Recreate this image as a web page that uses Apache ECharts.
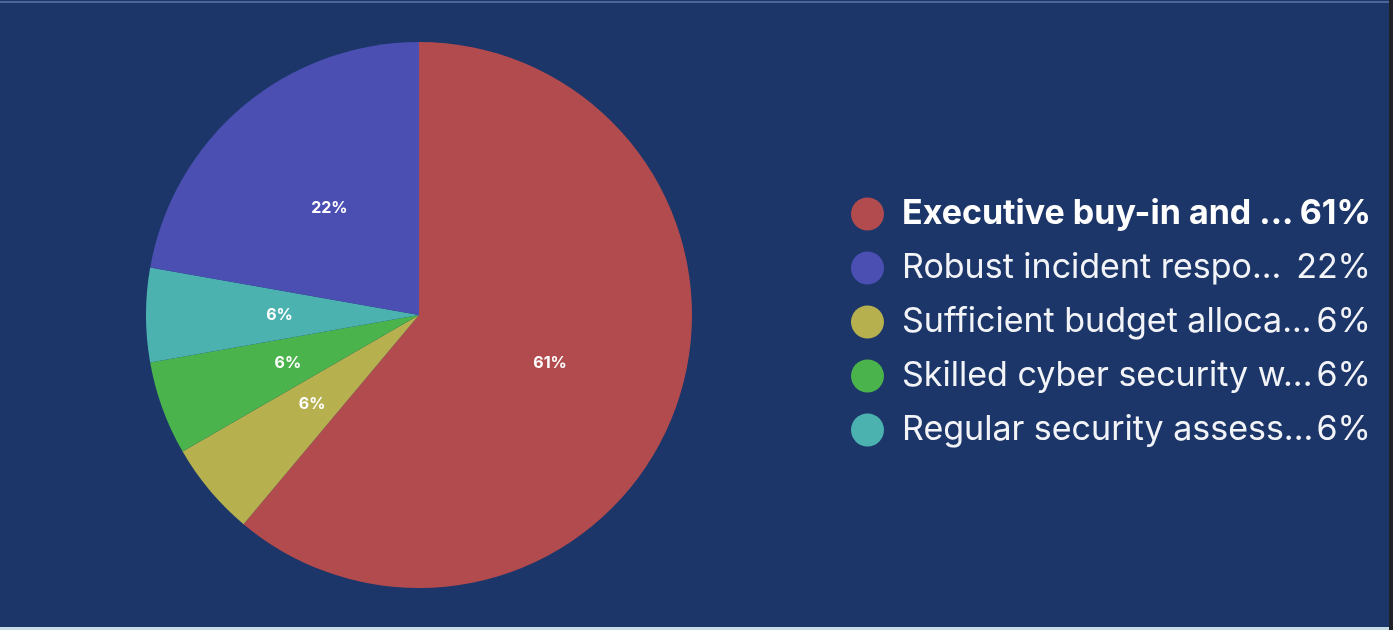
<!DOCTYPE html>
<html><head><meta charset="utf-8">
<script src="https://cdn.jsdelivr.net/npm/echarts@6/dist/echarts.min.js"></script>
<style>html,body{margin:0;padding:0;background:#1c3669;overflow:hidden;} #c{width:1393px;height:630px;}</style>
</head><body><div id="c"></div><script>
// Pie order (clockwise from top)
const categories = ['Executive buy-in and ...', 'Sufficient budget alloca...', 'Skilled cyber security w...', 'Regular security assess...', 'Robust incident respo...'];
const values = [11, 1, 1, 1, 4];
const colors = ['#b24b4e', '#b6b04f', '#4bb34b', '#4bb2b0', '#4b4fb2'];
// Legend order
const legendOrder = ['Executive buy-in and ...', 'Robust incident respo...', 'Sufficient budget alloca...', 'Skilled cyber security w...', 'Regular security assess...'];
const boldItem = 'Executive buy-in and ...';

const total = values.reduce((a, b) => a + b, 0);
const pct = v => Math.round(v / total * 100) + '%';

const FS = 34;
function legendText(name) {
  const v = values[categories.indexOf(name)];
  const k = name === boldItem ? 'b' : 'r';
  return '{n' + k + '|' + name + '}{p' + k + '|' + pct(v) + '}';
}

const chart = echarts.init(document.getElementById('c'));
const LEGEND_W = 469;
const nameW = LEGEND_W - 84;
const baseTok = { fontFamily: 'Inter', fontSize: FS, color: '#f2f4f8', lineHeight: 33 };
chart.setOption({
  backgroundColor: '#1c3669',
  animation: false,
  graphic: [
    { type: 'rect', shape: { x: 0, y: 1, width: 1393, height: 2 }, style: { fill: '#4d6698' } },
    { type: 'rect', shape: { x: 0, y: 627, width: 1393, height: 3 }, style: { fill: '#c9dde6' } },
    { type: 'rect', shape: { x: 1389, y: 0, width: 4, height: 630 }, style: { fill: '#202227' } }
  ],
  legend: {
    orient: 'vertical',
    left: 851,
    top: 197,
    padding: 0,
    itemWidth: 33,
    itemHeight: 33,
    itemGap: 20,
    icon: 'circle',
    data: legendOrder,
    selectedMode: false,
    formatter: legendText,
    textStyle: {
      rich: {
        nr: Object.assign({}, baseTok, { width: nameW, padding: [0, 0, 0, 13] }),
        pr: Object.assign({}, baseTok, { width: 84, align: 'right' }),
        nb: Object.assign({}, baseTok, { width: nameW, padding: [0, 0, 0, 13], fontWeight: 'bold', color: '#ffffff' }),
        pb: Object.assign({}, baseTok, { width: 84, align: 'right', fontWeight: 'bold', color: '#ffffff' })
      }
    }
  },
  series: [{
    type: 'pie',
    center: [419, 315],
    radius: 273,
    startAngle: 90,
    clockwise: true,
    silent: true,
    data: categories.map((c, i) => ({ name: c, value: values[i], itemStyle: { color: colors[i] } })),
    label: {
      position: 'inside',
      formatter: p => pct(p.value),
      color: '#ffffff',
      fontFamily: 'Inter',
      fontWeight: 'bold',
      fontSize: 16
    },
    labelLine: { show: false },
    itemStyle: { borderWidth: 0 }
  }]
});
</script></body></html>
